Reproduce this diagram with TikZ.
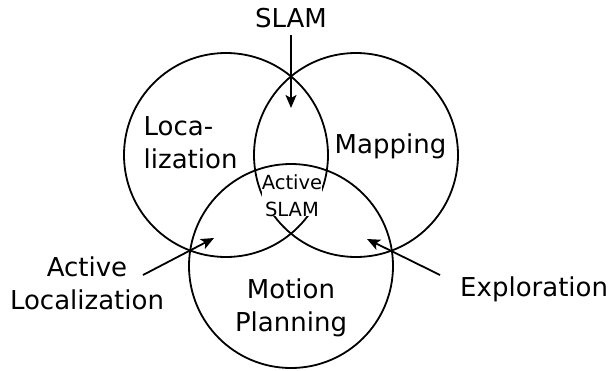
\documentclass[tikz,border=0pt]{standalone}
\usepackage{fontspec}
\setmainfont{DejaVu Sans}
\usetikzlibrary{arrows.meta}
\begin{document}
\begin{tikzpicture}[x=1pt,y=-1pt,
  circ/.style={draw=black,line width=1.8pt},
  big/.style={font=\fontsize{26}{33}\selectfont,inner sep=0pt},
  small/.style={font=\fontsize{19.5}{27}\selectfont,inner sep=0pt},
  arr/.style={line width=1.8pt,-{Stealth[length=13pt,width=11pt,inset=3pt]}}]
\useasboundingbox (0,0) rectangle (608,370);
\draw[circ] (226,155) circle[radius=102];
\draw[circ] (356,155) circle[radius=102];
\node[small,fill=white,align=center,anchor=base] (as) at (292,216) {Active\\SLAM};
\draw[circ] (291,266) circle[radius=102];
\node[big,anchor=base] (slam) at (291,27) {SLAM};
\node[big,align=left,anchor=base west] (loc) at (143.5,168.5) {Loca-\\lization};
\node[big,anchor=base west] (map) at (334.5,153) {Mapping};
\node[big,align=center,anchor=base] (mp) at (291,331) {Motion\\Planning};
\node[big,align=center,anchor=base] (al) at (87,309) {Active\\Localization};
\node[big,anchor=base west] (ex) at (460,296) {Exploration};
\coordinate (s1) at (291,35);
\coordinate (s2) at (291,108);
\coordinate (a1) at (143,275);
\coordinate (a2) at (214,238);
\coordinate (e1) at (440,275);
\coordinate (e2) at (367,239);
\draw[arr] (s1) -- (s2);
\draw[arr] (a1) -- (a2);
\draw[arr] (e1) -- (e2);
\end{tikzpicture}
\end{document}
